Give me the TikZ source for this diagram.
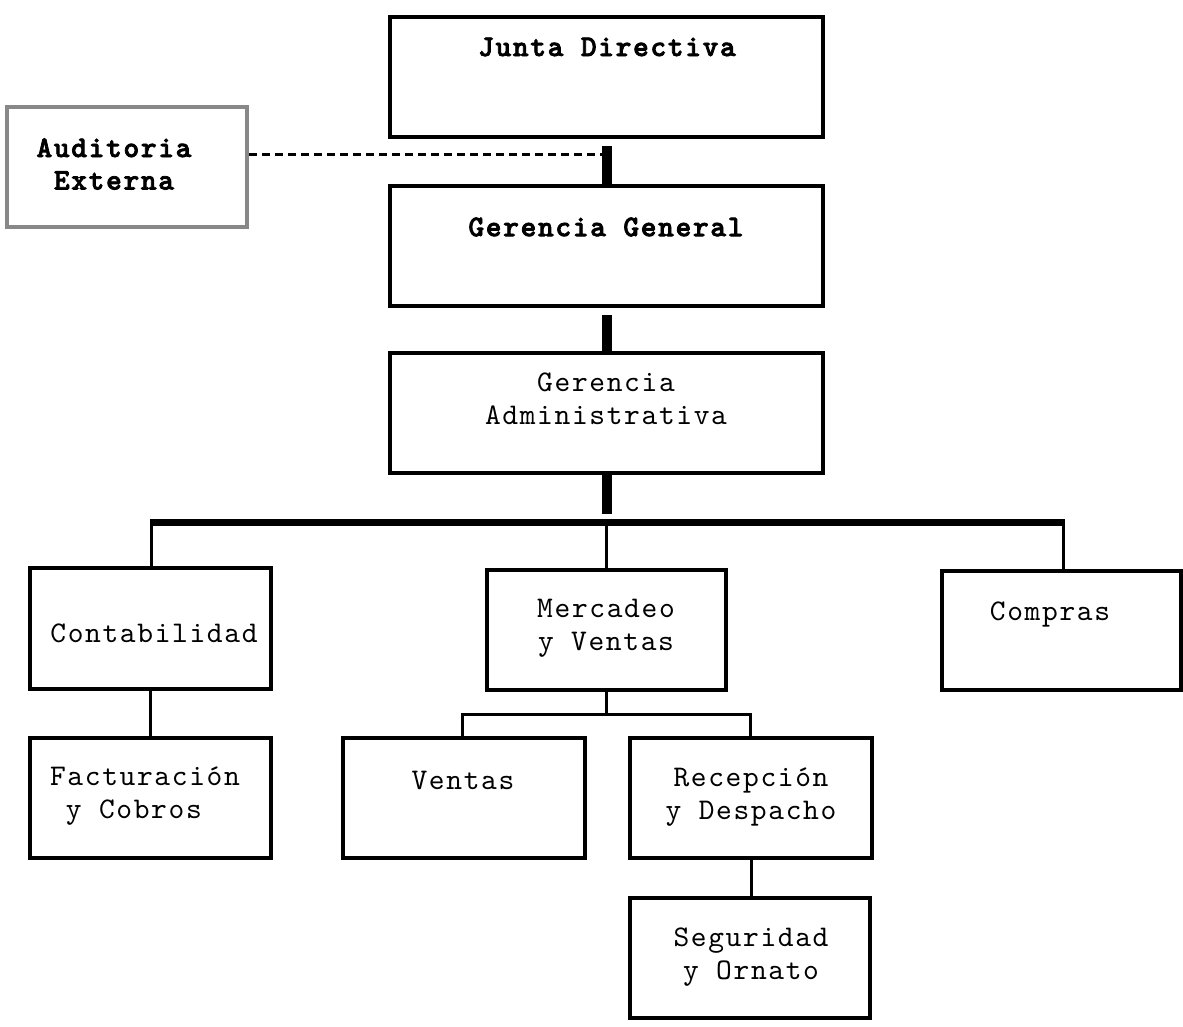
\documentclass[tikz,border=0pt]{standalone}
\usepackage{fontspec}
\setmonofont{lmmono10-regular.otf}[LetterSpace=5.5]
\newfontfamily\heavymono{lmmonolt10-bold.otf}[FakeBold=2.5,LetterSpace=5.5]
\definecolor{boxgray}{HTML}{888888}
\begin{document}
\begin{tikzpicture}[x=1pt,y=-1pt,
  box/.style={draw=black,line width=4pt,inner sep=0pt,rectangle},
  gbox/.style={box,draw=boxgray,line width=3.5pt},
  lab/.style={font=\ttfamily\fontsize{30}{32.5}\selectfont,align=center,inner sep=0pt},
  blab/.style={lab,font=\heavymono\fontsize{30}{32.5}\selectfont},
  major/.style={line width=10pt},
  busline/.style={line width=7pt},
  minor/.style={line width=3pt},
  dashc/.style={line width=3pt,dash pattern=on 8pt off 5pt}]
\useasboundingbox (0,0) rectangle (1183,1026);
\fill[white] (0,0) rectangle (1183,1026);

% boxes
\node[box,minimum width=433pt,minimum height=120pt] (jd) at (606.5,77) {};
\node[box,minimum width=433pt,minimum height=120pt] (gg) at (606.5,246) {};
\node[box,minimum width=433pt,minimum height=120pt] (ga) at (606.5,413) {};
\node[gbox,minimum width=240pt,minimum height=120pt] (aud) at (127,167) {};
\node[box,minimum width=241pt,minimum height=121pt] (con) at (150.5,628.5) {};
\node[box,minimum width=241pt,minimum height=120pt] (fac) at (150.5,798) {};
\node[box,minimum width=239pt,minimum height=120pt] (mer) at (606.5,630) {};
\node[box,minimum width=239pt,minimum height=119pt] (com) at (1061.5,630.5) {};
\node[box,minimum width=242pt,minimum height=120pt] (ven) at (464,798) {};
\node[box,minimum width=242pt,minimum height=120pt] (rec) at (751,798) {};
\node[box,minimum width=240pt,minimum height=120pt] (seg) at (750,958) {};

% texts
\node[blab] (tjd) at (607,47) {Junta Directiva};
\node[blab] (tgg) at (606,227) {Gerencia General};
\node[lab] (tga) at (606,399) {Gerencia\\Administrativa};
\node[blab] (taud) at (114,164) {Auditoria\\Externa};
\node[lab] (tcon) at (154,633) {Contabilidad};
\node[lab,align=left] (tfac) at (145,796) {Facturación\\\hphantom{x}y Cobros};
\node[lab] (tmer) at (606,628) {Mercadeo\\y Ventas};
\node[lab] (tcom) at (1050,614) {Compras};
\node[lab] (tven) at (463,780) {Ventas};
\node[lab] (trec) at (751,797) {Recepción\\y Despacho};
\node[lab] (tseg) at (751,957) {Seguridad\\y Ornato};

% connector points
\coordinate (dj) at (606.5,154);
\coordinate (busl) at (151,522);
\coordinate (busm) at (606.5,522);
\coordinate (busr) at (1063,522);
\coordinate (mj) at (606.5,714);
\coordinate (mjl) at (462,714);
\coordinate (mjr) at (750,714);

% connectors
\draw[major] ([yshift=-7pt]jd.south) -- (gg.north);
\draw[dashc] (aud.east |- dj) -- (dj);
\draw[major] ([yshift=-7pt]gg.south) -- (ga.north);
\draw[major] (ga.south) -- ([yshift=8pt]busm);
\draw[busline] ([xshift=-1.5pt]busl) -- ([xshift=1.5pt]busr);
\draw[minor] (busl) -- (busl |- con.north);
\draw[minor] (busm) -- (mer.north);
\draw[minor] (busr) -- (busr |- com.north);
\draw[minor] (con.south) -- (fac.north);
\draw[minor] (mer.south) -- (mj);
\draw[minor] (mjl |- ven.north) -- (mjl) -- (mjr) -- (mjr |- rec.north);
\draw[minor] (rec.south) -- (rec.south |- seg.north);
\end{tikzpicture}
\end{document}
